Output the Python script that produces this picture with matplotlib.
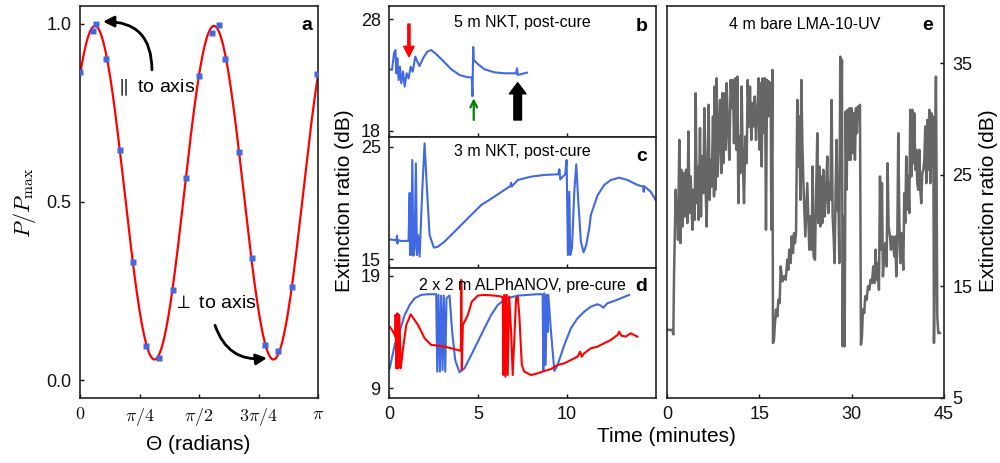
import numpy as np
import matplotlib
matplotlib.use("Agg")
import matplotlib.pyplot as plt

plt.rcParams["font.family"] = ["Liberation Sans", "DejaVu Sans"]
plt.rcParams["mathtext.fontset"] = "cm"

BLUE = "#4169e1"
RED = "#ff0000"
GRAY = "#666666"

# ---- panel a: power vs polariser angle ----
a_angle_deg = [0, 10, 12, 20, 30, 40, 50, 60, 70, 80, 90, 100, 105, 110,
               120, 130, 140, 150, 160, 179]
a_power = [0.865, 0.980, 0.999, 0.902, 0.647, 0.331, 0.096, 0.061, 0.254,
           0.567, 0.854, 0.974, 0.996, 0.902, 0.640, 0.344, 0.098, 0.081,
           0.261, 0.860]
# fitted cos^2 model (offset, amplitude, angle of maximum in degrees)
a_fit_offset = 0.526
a_fit_amp = 0.468
a_fit_peak_deg = 11.3

# ---- panel b: 5 m NKT, post-cure ----
b_time = [0.04, 0.17, 0.28, 0.36, 0.41, 0.47, 0.54, 0.62, 0.69, 0.79, 0.88,
          0.99, 1.10, 1.22, 1.33, 1.48, 1.59, 1.72, 1.91, 2.15, 2.37, 2.65,
          3.03, 3.50, 3.96, 4.43, 4.65, 4.69, 4.73, 4.76, 4.99, 5.36, 5.92,
          6.48, 7.14, 7.19, 7.23, 7.75]
b_db = [23.51, 23.45, 24.93, 25.23, 23.15, 24.49, 22.55, 23.74, 22.26, 23.30,
        21.96, 23.15, 22.70, 23.74, 23.30, 24.64, 24.19, 23.80, 24.49, 25.08,
        25.23, 24.87, 24.28, 23.51, 23.00, 22.79, 22.79, 21.10, 25.50, 24.34,
        23.98, 23.51, 23.24, 23.15, 23.15, 23.60, 23.00, 23.21]

# ---- panel c: 3 m NKT, post-cure ----
c_time = [0.04, 0.41, 0.45, 0.47, 0.51, 0.69, 1.07, 1.10, 1.16, 1.18, 1.22,
          1.25, 1.31, 1.37, 1.44, 1.51, 1.57, 1.63, 1.72, 1.87, 2.00, 2.13,
          2.28, 2.52, 2.75, 3.12, 3.87, 4.62, 5.18, 5.92, 6.48, 6.82, 6.86,
          6.89, 7.23, 7.98, 8.73, 9.51, 9.57, 9.62, 9.90, 9.98, 10.05, 10.13,
          10.18, 10.28, 10.41, 10.52, 10.63, 10.78, 10.93, 11.08, 11.25,
          11.34, 11.71, 12.09, 12.46, 12.93, 13.40, 13.96, 14.29, 14.31,
          14.33, 14.70, 14.98]
c_db = [16.77, 16.69, 17.10, 16.40, 16.69, 16.63, 16.63, 16.77, 20.90, 15.38,
        20.12, 15.40, 23.82, 15.32, 16.00, 23.52, 15.38, 17.16, 15.24, 21.16,
        25.30, 21.30, 17.16, 16.04, 16.12, 16.57, 17.75, 18.94, 19.82, 20.56,
        21.16, 21.50, 21.80, 21.45, 22.04, 22.34, 22.49, 22.55, 23.00, 22.10,
        22.55, 23.82, 15.38, 21.00, 15.38, 16.00, 21.00, 23.43, 20.27, 16.57,
        15.62, 16.27, 17.75, 18.94, 20.66, 21.60, 22.04, 22.25, 22.04, 21.60,
        21.45, 21.00, 21.50, 21.01, 20.27]

# ---- panel d: 2 x 2 m ALPhANOV, pre-cure ----
d_blue_time = [0.04, 0.32, 0.60, 0.88, 1.16, 1.44, 1.81, 2.19, 2.65, 2.71,
               2.78, 2.86, 2.93, 3.01, 3.08, 3.16, 3.23, 3.40, 3.55, 3.72,
               3.96, 4.24, 4.62, 4.99, 5.36, 5.74, 6.11, 6.48, 6.86, 7.23,
               7.79, 8.35, 8.63, 8.67, 8.73, 8.80, 8.86, 8.91, 8.95, 9.10,
               9.29, 9.47, 9.85, 10.22, 10.59, 10.97, 11.34, 11.71, 11.90,
               12.05, 12.27, 12.65, 13.02, 13.49]
d_blue_db = [10.77, 12.85, 14.03, 15.51, 16.40, 16.99, 17.29, 17.35, 17.35,
             10.48, 17.29, 10.48, 17.23, 10.63, 17.23, 10.48, 16.99, 17.23,
             14.00, 11.50, 10.42, 10.77, 11.96, 13.14, 14.33, 15.51, 16.40,
             16.84, 17.08, 17.23, 17.29, 17.35, 17.35, 10.63, 17.43, 11.07,
             17.29, 14.00, 17.29, 14.03, 10.54, 11.07, 12.85, 14.33, 15.21,
             15.81, 16.25, 16.46, 16.34, 16.16, 16.55, 16.75, 16.99, 17.29]
d_red_time = [0.04, 0.23, 0.36, 0.37, 0.41, 0.47, 0.52, 0.58, 0.66, 0.79,
              0.97, 1.22, 1.63, 2.00, 2.37, 2.75, 3.12, 3.50, 3.87, 4.04,
              4.06, 4.09, 4.15, 4.43, 4.65, 4.99, 5.36, 5.92, 6.33, 6.39,
              6.43, 6.48, 6.54, 6.61, 6.67, 6.75, 6.86, 6.95, 7.14, 7.23,
              7.32, 7.46, 7.60, 7.98, 8.35, 8.73, 9.10, 9.47, 9.85, 10.22,
              10.59, 10.74, 10.82, 10.97, 11.34, 11.71, 12.09, 12.46, 12.83,
              12.93, 13.06, 13.30, 13.58, 13.77, 13.95]
d_red_db = [14.47, 14.03, 13.59, 15.51, 10.77, 15.66, 10.77, 15.51, 10.77,
            12.55, 14.62, 15.57, 14.62, 13.44, 12.85, 12.79, 12.70, 12.55,
            12.40, 12.31, 18.62, 10.63, 14.62, 15.51, 16.69, 17.23, 17.29,
            17.23, 17.14, 16.99, 10.18, 17.29, 10.03, 17.29, 10.18, 17.14,
            14.03, 10.18, 16.99, 17.14, 15.51, 11.07, 10.48, 10.18, 10.33,
            10.54, 10.71, 11.07, 11.22, 11.51, 11.81, 12.25, 11.81, 12.11,
            12.55, 12.70, 13.00, 13.29, 13.73, 14.03, 13.67, 13.59, 13.88,
            13.73, 13.59]

# ---- panel e: 4 m bare LMA-10-UV ----
e_time = [0.00, 0.87, 1.03, 1.14, 1.41, 1.57, 1.68, 1.79, 2.00, 2.17, 2.33,
          2.55, 2.76, 2.92, 3.09, 3.30, 3.47, 3.68, 3.85, 4.12, 4.28, 4.50,
          4.66, 4.82, 4.98, 5.14, 5.36, 5.52, 5.69, 5.90, 6.07, 6.28, 6.44,
          6.61, 6.77, 6.93, 7.09, 7.26, 7.47, 7.64, 7.74, 7.91, 8.07, 8.23,
          8.39, 8.61, 8.83, 8.99, 9.15, 9.31, 9.53, 9.69, 9.91, 10.13, 10.34,
          10.56, 10.72, 10.88, 11.10, 11.26, 11.43, 11.59, 11.75, 11.91,
          12.13, 12.29, 12.51, 12.73, 12.94, 13.11, 13.32, 13.48, 13.70,
          13.86, 14.03, 14.24, 14.46, 14.68, 14.89, 15.05, 15.22, 15.38,
          15.54, 15.76, 15.92, 16.08, 16.25, 16.41, 16.57, 16.73, 16.84,
          16.95, 17.11, 17.22, 17.38, 17.54, 17.71, 17.92, 18.09, 18.30,
          18.47, 18.74, 19.01, 19.28, 19.55, 19.71, 19.87, 20.09, 20.25,
          20.47, 20.63, 20.79, 20.96, 21.17, 21.34, 21.50, 21.66, 21.82,
          21.99, 22.14, 22.30, 22.47, 22.63, 22.79, 22.95, 23.12, 23.28,
          23.50, 23.66, 23.82, 24.04, 24.20, 24.42, 24.58, 24.74, 24.90,
          25.07, 25.23, 25.39, 25.61, 25.82, 26.04, 26.20, 26.37, 26.53,
          26.74, 26.91, 27.07, 27.23, 27.39, 27.56, 27.72, 27.88, 27.99,
          28.15, 28.31, 28.42, 28.53, 28.69, 28.86, 29.02, 29.18, 29.34,
          29.51, 29.67, 29.83, 29.99, 30.16, 30.37, 30.53, 30.70, 30.86,
          31.02, 31.18, 31.35, 31.51, 31.67, 31.83, 32.05, 32.21, 32.43,
          32.65, 32.86, 33.08, 33.30, 33.51, 33.73, 33.89, 34.05, 34.27,
          34.43, 34.60, 34.76, 34.92, 35.08, 35.25, 35.46, 35.68, 35.84,
          36.00, 36.22, 36.38, 36.60, 36.76, 36.92, 37.09, 37.25, 37.41,
          37.57, 37.74, 37.90, 38.06, 38.22, 38.39, 38.55, 38.71, 38.87,
          39.04, 39.20, 39.36, 39.52, 39.69, 39.85, 40.01, 40.17, 40.34,
          40.50, 40.66, 40.82, 40.99, 41.15, 41.31, 41.47, 41.64, 41.80,
          41.96, 42.12, 42.29, 42.45, 42.61, 42.77, 42.94, 43.10, 43.26,
          43.37, 43.48, 43.59, 43.69, 43.80, 43.91, 44.07, 44.34]
e_db = [11.10, 11.10, 10.70, 15.90, 23.66, 20.67, 21.87, 19.18, 28.13, 18.88,
        25.45, 20.37, 25.15, 21.27, 25.45, 20.67, 28.88, 21.57, 24.85, 20.08,
        23.66, 20.97, 32.31, 22.46, 25.75, 20.97, 29.18, 21.27, 26.64, 23.36,
        30.97, 23.66, 20.37, 26.64, 31.27, 22.76, 26.34, 23.96, 30.22, 23.06,
        32.91, 23.66, 33.65, 24.85, 27.83, 31.71, 25.15, 32.31, 26.04, 32.31,
        27.24, 33.21, 29.33, 26.34, 33.50, 30.97, 33.50, 27.83, 33.65, 27.24,
        33.80, 22.46, 28.43, 25.15, 32.91, 26.64, 22.46, 28.43, 26.04, 33.50,
        29.33, 32.91, 28.13, 31.42, 29.33, 32.01, 28.13, 30.82, 33.65, 27.24,
        33.21, 25.75, 33.65, 28.73, 33.65, 20.08, 33.50, 30.22, 33.36, 32.61,
        33.21, 20.08, 34.40, 9.93, 10.23, 11.72, 12.92, 12.32, 13.81, 13.51,
        16.79, 15.45, 15.90, 15.60, 17.39, 16.49, 18.29, 17.09, 19.48, 17.99,
        19.78, 18.88, 19.78, 31.71, 25.75, 30.22, 22.76, 33.50, 27.83, 24.55,
        22.17, 19.48, 21.87, 24.25, 21.27, 18.29, 21.27, 18.29, 25.75, 17.69,
        17.39, 22.76, 28.73, 20.67, 25.75, 20.37, 24.85, 20.67, 25.45, 21.27,
        23.36, 26.64, 21.57, 24.25, 22.76, 31.71, 21.27, 19.48, 17.09, 23.66,
        28.13, 21.87, 21.57, 17.09, 35.59, 27.24, 35.29, 9.63, 21.27, 9.63,
        30.67, 23.66, 30.82, 26.34, 30.97, 26.34, 30.97, 26.94, 30.52, 26.34,
        30.97, 28.73, 31.12, 30.52, 31.27, 9.78, 10.53, 12.92, 12.62, 14.11,
        13.81, 15.00, 14.70, 15.60, 15.30, 16.79, 15.30, 18.29, 15.60, 17.09,
        14.70, 24.85, 18.29, 24.25, 15.90, 17.69, 18.88, 16.79, 26.04, 20.37,
        19.48, 18.29, 19.48, 18.88, 17.69, 19.48, 15.90, 18.88, 28.73, 21.27,
        17.09, 19.78, 18.29, 16.49, 23.36, 20.67, 26.64, 21.87, 24.85, 21.57,
        30.82, 24.85, 30.82, 26.04, 30.52, 25.45, 27.24, 24.25, 23.66, 27.24,
        23.66, 22.46, 25.15, 25.45, 26.34, 29.33, 24.25, 29.92, 25.45, 30.82,
        24.25, 30.52, 25.75, 30.22, 9.93, 15.30, 28.73, 33.80, 24.25, 12.32,
        10.83, 10.83]


def style(ax):
    for s in ax.spines.values():
        s.set_linewidth(1.2)
        s.set_color("#222222")
    ax.tick_params(direction="in", length=3, width=1, labelsize=13, pad=6,
                   colors="#111111")


fig = plt.figure(figsize=(10, 4.63), dpi=100)
ax_a = fig.add_axes([0.080, 0.1404, 0.238, 0.8467])
ax_b = fig.add_axes([0.389, 0.7041, 0.267, 0.2829])
ax_c = fig.add_axes([0.389, 0.4212, 0.267, 0.2829])
ax_d = fig.add_axes([0.389, 0.1404, 0.267, 0.2808])
ax_e = fig.add_axes([0.667, 0.1404, 0.277, 0.8467])

# panel a
theta = np.linspace(0, np.pi, 400)
fit = a_fit_offset + a_fit_amp * np.cos(4 * (theta - np.radians(a_fit_peak_deg)))
ax_a.plot(theta, fit, color=RED, lw=1.6, zorder=2)
ax_a.plot(np.radians(a_angle_deg), a_power, "s", color=BLUE, ms=3.8,
          mec="none", zorder=3)
ax_a.set_xlim(0, np.pi)
ax_a.set_ylim(-0.05, 1.05)
ax_a.set_xticks([0, np.pi / 4, np.pi / 2, 3 * np.pi / 4, np.pi])
ax_a.set_xticklabels([r"$0$", r"$\pi/4$", r"$\pi/2$", r"$3\pi/4$", r"$\pi$"])
ax_a.set_yticks([0.0, 0.5, 1.0])
ax_a.set_yticklabels(["0.0", "0.5", "1.0"])
style(ax_a)
ax_a.text(0.954, 0.949, "a", transform=ax_a.transAxes, fontsize=14,
          fontweight="bold", ha="center", va="center")
ax_a.text(0.462, 0.820, r"$\parallel$ to axis", fontsize=14, va="center")
ax_a.text(1.228, 0.216, r"$\perp$ to axis", fontsize=14, va="center")
ax_a.annotate("", xy=(0.304, 1.006), xytext=(0.950, 0.871),
              arrowprops=dict(arrowstyle="-|>", color="k", lw=2,
                              mutation_scale=16, shrinkA=0, shrinkB=0,
                              connectionstyle="arc3,rad=0.5"))
ax_a.annotate("", xy=(2.468, 0.062), xytext=(1.782, 0.154),
              arrowprops=dict(arrowstyle="-|>", color="k", lw=2,
                              mutation_scale=16, shrinkA=0, shrinkB=0,
                              connectionstyle="arc3,rad=0.4"))

# panels b, c, d
ax_b.plot(b_time, b_db, color=BLUE, lw=1.5)
ax_c.plot(c_time, c_db, color=BLUE, lw=1.5)
ax_d.plot(d_blue_time, d_blue_db, color=BLUE, lw=1.5)
ax_d.plot(d_red_time, d_red_db, color=RED, lw=1.5)

ax_b.set_ylim(17.46, 29.16)
ax_c.set_ylim(14.23, 25.86)
ax_d.set_ylim(8.14, 19.68)
ax_b.set_yticks([18, 28])
ax_c.set_yticks([15, 25])
ax_d.set_yticks([9, 19])

for ax in (ax_b, ax_c, ax_d):
    ax.set_xlim(0, 15)
    ax.set_xticks([0, 5, 10])
    style(ax)
ax_b.tick_params(labelbottom=False)
ax_c.tick_params(labelbottom=False)

ax_b.text(0.50, 0.873, "5 m NKT, post-cure", transform=ax_b.transAxes,
          fontsize=11.5, ha="center", va="center")
ax_c.text(0.50, 0.888, "3 m NKT, post-cure", transform=ax_c.transAxes,
          fontsize=11.5, ha="center", va="center")
ax_d.text(0.50, 0.869, "2 x 2 m ALPhANOV, pre-cure", transform=ax_d.transAxes,
          fontsize=11.5, ha="center", va="center")
for ax, letter, y in ((ax_b, "b", 0.842), (ax_c, "c", 0.85), (ax_d, "d", 0.856)):
    ax.text(0.946, y, letter, transform=ax.transAxes, fontsize=14,
            fontweight="bold", ha="center", va="center")

ax_b.annotate("", xy=(1.12, 24.63), xytext=(1.12, 27.55),
              arrowprops=dict(color=RED, width=1.6, headwidth=7.5,
                              headlength=7.5, shrink=0))
ax_b.annotate("", xy=(4.76, 20.92), xytext=(4.76, 18.98),
              arrowprops=dict(arrowstyle="->", color="green", lw=1.6,
                              mutation_scale=12, shrinkA=0, shrinkB=0))
ax_b.annotate("", xy=(7.23, 22.31), xytext=(7.23, 18.98),
              arrowprops=dict(color="k", width=5.5, headwidth=12,
                              headlength=8, shrink=0))

# panel e
ax_e.plot(e_time, e_db, color=GRAY, lw=1.8)
ax_e.set_xlim(0, 45)
ax_e.set_ylim(5, 40.13)
ax_e.set_xticks([0, 15, 30, 45])
ax_e.set_yticks([5, 15, 25, 35])
ax_e.yaxis.tick_right()
style(ax_e)
ax_e.tick_params(left=False, right=True)
ax_e.text(0.498, 0.952, "4 m bare LMA-10-UV", transform=ax_e.transAxes,
          fontsize=11.5, ha="center", va="center")
ax_e.text(0.941, 0.949, "e", transform=ax_e.transAxes, fontsize=14,
          fontweight="bold", ha="center", va="center")

# shared labels
fig.text(0.025, 0.562, r"$P/P_{\rm max}$", rotation=90, fontsize=16,
         ha="center", va="center")
fig.text(0.1985, 0.039, "Θ (radians)", fontsize=15, ha="center", va="center")
fig.text(0.344, 0.566, "Extinction ratio (dB)", rotation=90, fontsize=15,
         ha="center", va="center")
fig.text(0.988, 0.566, "Extinction ratio (dB)", rotation=90, fontsize=15,
         ha="center", va="center")
fig.text(0.666, 0.058, "Time (minutes)", fontsize=15, ha="center",
         va="center")

fig.savefig("out.png", dpi=100)
